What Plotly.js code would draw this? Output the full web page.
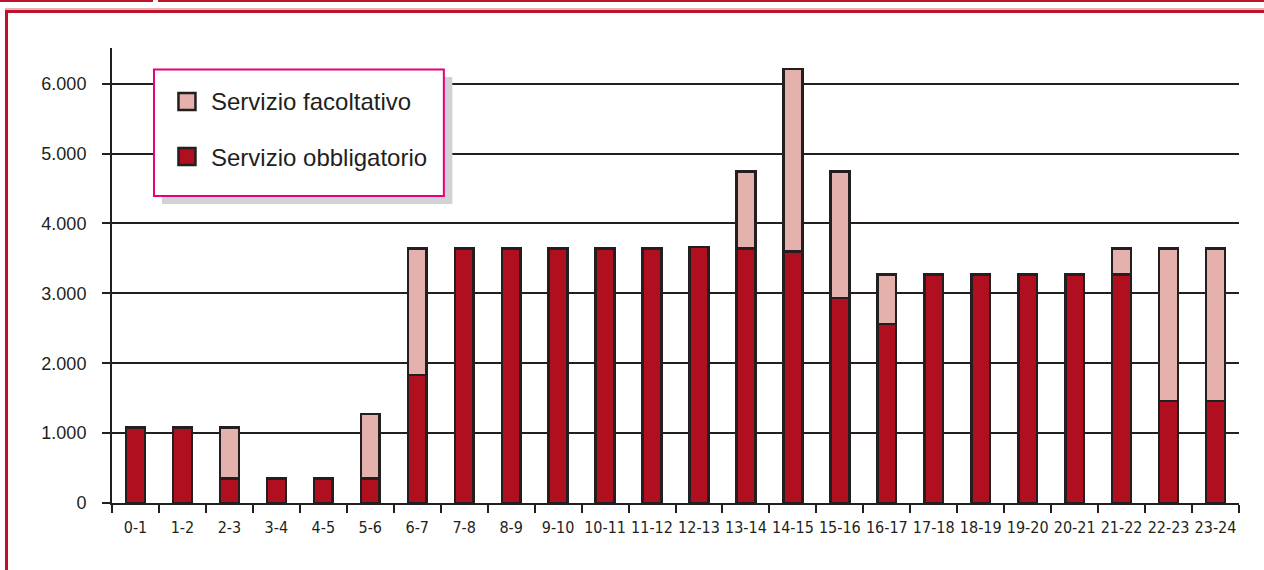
<!DOCTYPE html>
<html>
<head>
<meta charset="utf-8">
<script src="https://cdn.plot.ly/plotly-3.0.1.min.js"></script>
<style>
  html, body { margin: 0; padding: 0; background: #ffffff; }
  #wrap { position: relative; width: 1264px; height: 570px; overflow: hidden; }
  #chart { position: absolute; left: 0; top: 0; width: 1264px; height: 570px; }
  .rule { position: absolute; pointer-events: none; }
</style>
</head>
<body>
<div id="wrap">
  <div id="chart"></div>
  <!-- page frame -->
  <div class="rule" style="left:0;top:0;width:153px;height:1.5px;background:#c0112a"></div>
  <div class="rule" style="left:158px;top:0;width:1106px;height:1.5px;background:#c0112a"></div>
  <div class="rule" style="left:5px;top:8px;width:1259px;height:1.5px;background:#eab0b6"></div>
  <div class="rule" style="left:5px;top:10px;width:1259px;height:2.5px;background:#c0112a"></div>
  <div class="rule" style="left:5px;top:10px;width:2.5px;height:560px;background:#c0112a"></div>
</div>
<script>
// Fasce orarie
const fasce = ["0-1","1-2","2-3","3-4","4-5","5-6","6-7","7-8","8-9","9-10","10-11","11-12",
               "12-13","13-14","14-15","15-16","16-17","17-18","18-19","19-20","20-21","21-22","22-23","23-24"];

// Servizio obbligatorio
const obbligatorio = [1080,1080,350,350,350,350,1830,3640,3640,3640,3640,3640,
                      3660,3640,3600,2930,2560,3270,3270,3270,3270,3270,1460,1460];

// Servizio facoltativo (quota sopra l'obbligatorio)
const facoltativo  = [0,0,730,0,0,920,1810,0,0,0,0,0,
                      0,1100,2610,1810,710,0,0,0,0,370,2180,2180];

const yTickVals = [0,1000,2000,3000,4000,5000,6000];
const yTickText = ["0","1.000","2.000","3.000","4.000","5.000","6.000"];

const legendLabels = ["Servizio facoltativo", "Servizio obbligatorio"];

const INK = "#231f20";
const RED = "#b00f1f";
const PINK = "#e5b1ac";

// plot area in pixels
const L = 111.5, R = 1239, T = 48, B = 503;
const W = R - L, H = B - T;
const px = x => (x - L) / W;
const py = y => (B - y) / H;

const traces = [
  {
    type: "bar", name: legendLabels[1], x: fasce, y: obbligatorio,
    marker: { color: RED, line: { color: INK, width: 2.5 } },
    hoverinfo: "x+y"
  },
  {
    type: "bar", name: legendLabels[0], x: fasce, y: facoltativo,
    marker: { color: PINK, line: { color: INK, width: 2.5 } },
    hoverinfo: "x+y"
  }
];

const shapes = [
  // legend shadow
  { type: "rect", xref: "paper", yref: "paper", layer: "above",
    x0: px(161.5), x1: px(452), y0: py(204), y1: py(77),
    fillcolor: "#d1d2d4", line: { width: 0 } },
  // legend box
  { type: "rect", xref: "paper", yref: "paper", layer: "above",
    x0: px(153.5), x1: px(443.5), y0: py(196), y1: py(69.5),
    fillcolor: "#ffffff", line: { color: "#e6007e", width: 2 } },
  // legend swatches
  { type: "rect", xref: "paper", yref: "paper", layer: "above",
    x0: px(178), x1: px(195), y0: py(110), y1: py(93),
    fillcolor: PINK, line: { color: INK, width: 2.5 } },
  { type: "rect", xref: "paper", yref: "paper", layer: "above",
    x0: px(178), x1: px(195), y0: py(165), y1: py(148),
    fillcolor: RED, line: { color: INK, width: 2.5 } }
];

const annotations = [
  { xref: "paper", yref: "paper", x: px(209), y: py(101), xanchor: "left", yanchor: "middle",
    text: legendLabels[0], showarrow: false,
    font: { family: "Liberation Sans, Arial, sans-serif", size: 24, color: INK } },
  { xref: "paper", yref: "paper", x: px(209), y: py(157), xanchor: "left", yanchor: "middle",
    text: legendLabels[1], showarrow: false,
    font: { family: "Liberation Sans, Arial, sans-serif", size: 24, color: INK } }
];

const layout = {
  width: 1264, height: 570,
  margin: { l: L, r: 1264 - R, t: T, b: 570 - B, pad: 0 },
  paper_bgcolor: "rgba(0,0,0,0)",
  plot_bgcolor: "rgba(0,0,0,0)",
  barmode: "stack",
  bargap: 0.6,
  showlegend: false,
  xaxis: {
    type: "category",
    showline: true, linecolor: INK, linewidth: 2,
    ticks: "outside", tickson: "boundaries", ticklen: 8, tickwidth: 2, tickcolor: INK,
    tickangle: 0,
    ticklabelstandoff: 9,
    tickfont: { family: "Liberation Sans Narrow, Arial Narrow, DejaVu Sans Condensed, sans-serif", size: 16, color: INK },
    showgrid: false, zeroline: false, fixedrange: true
  },
  yaxis: {
    range: [0, 6510],
    tickmode: "array", tickvals: yTickVals, ticktext: yTickText,
    showline: true, linecolor: INK, linewidth: 2,
    ticks: "outside", ticklen: 8, tickwidth: 2, tickcolor: INK,
    ticklabelstandoff: 12,
    tickfont: { family: "Liberation Sans, Arial, sans-serif", size: 18, color: INK },
    showgrid: true, gridcolor: INK, gridwidth: 2,
    zeroline: false, fixedrange: true
  },
  shapes: shapes,
  annotations: annotations
};

Plotly.newPlot("chart", traces, layout, { displayModeBar: false, staticPlot: true });
</script>
</body>
</html>
